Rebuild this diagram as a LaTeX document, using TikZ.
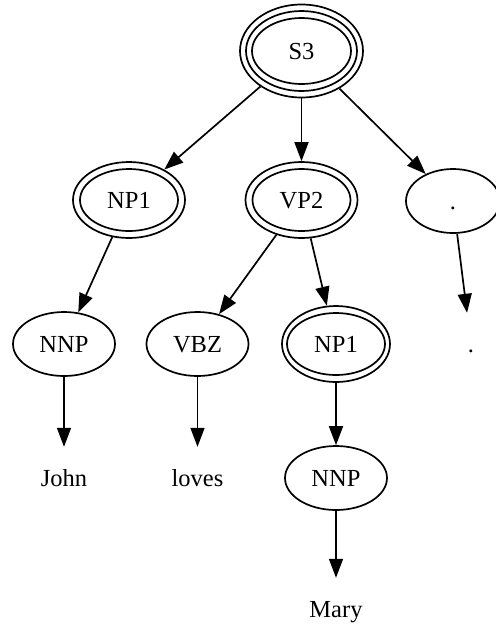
\documentclass[tikz,border=0pt]{standalone}
\usepackage{fontspec}
\setmainfont{Liberation Serif}
\usetikzlibrary{shapes.geometric,arrows.meta}
\begin{document}
\begin{tikzpicture}[x=1pt,y=-1pt,
  every node/.style={font=\fontsize{24.5}{28}\selectfont, text height=20pt, text depth=3pt, inner sep=0pt},
  ring/.style={ellipse, draw, line width=1.7pt},
  single/.style={ring, minimum width=102pt, minimum height=64pt},
  dbl/.style={ring, minimum width=112pt, minimum height=76pt,
    path picture={\draw[line width=1.7pt] (path picture bounding box.center) ellipse (49pt and 31pt);}},
  trpl/.style={ring, minimum width=123pt, minimum height=93pt,
    path picture={\draw[line width=1.7pt] (path picture bounding box.center) ellipse (49.5pt and 33pt)
                                     (path picture bounding box.center) ellipse (55.5pt and 40pt);}},
  word/.style={rectangle, minimum width=20pt, minimum height=62pt},
  link/.style={line width=1.7pt, -{Triangle[length=19pt,width=14pt]}}
]
\clip (0,0) rectangle (496,625);
\useasboundingbox (0,0) rectangle (496,625);

% tree nodes
\node[trpl]   (s3)   at (301.5,51)  {S3};
\node[dbl]    (np1a) at (129,200)   {NP1};
\node[dbl]    (vp2)  at (301.5,200) {VP2};
\node[single, minimum width=94pt] (dotA) at (453,201) {.};
\node[single] (nnpA) at (64,344)    {NNP};
\node[single] (vbz)  at (197.5,344) {VBZ};
\node[dbl, minimum width=108pt] (np1b) at (336,344) {NP1};
\node[word]   (dotB) at (471,344)   {.};
\node[word]   (john) at (64,478)    {John};
\node[word]   (loves) at (197.5,478) {loves};
\node[single] (nnpB) at (336,478)   {NNP};
\node[word]   (mary) at (336,609)   {Mary};

% edges
\draw[link] (s3) -- (np1a);
\draw[link] (s3) -- (vp2);
\draw[link] (s3) -- (dotA);
\draw[link] (np1a) -- (nnpA);
\draw[link] (vp2) -- (vbz);
\draw[link] (vp2) -- (np1b);
\draw[link] (dotA) -- (dotB);
\draw[link] (nnpA) -- (john);
\draw[link] (vbz) -- (loves);
\draw[link] (np1b) -- (nnpB);
\draw[link] (nnpB) -- (mary);
\end{tikzpicture}
\end{document}
